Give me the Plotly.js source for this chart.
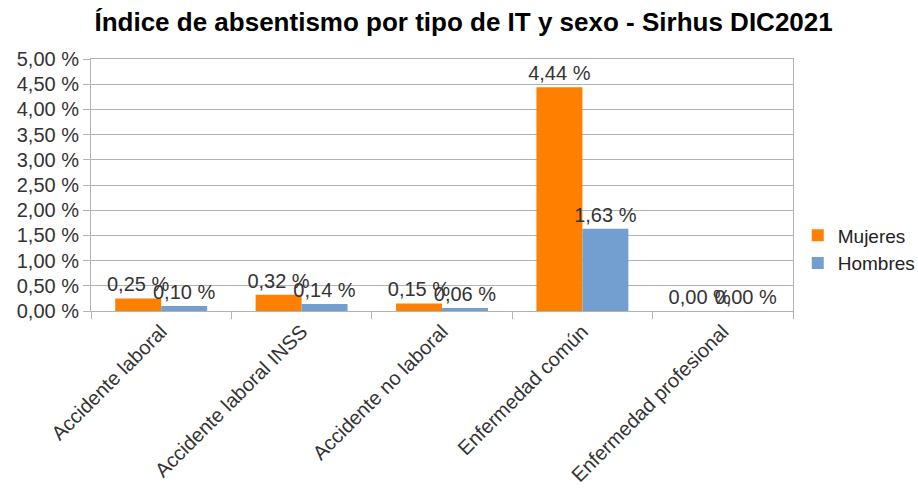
<!DOCTYPE html>
<html>
<head>
<meta charset="utf-8">
<script src="https://cdn.plot.ly/plotly-3.0.1.min.js"></script>
<style>html,body{margin:0;padding:0;background:#fff;}#chart{width:918px;height:488px;}</style>
</head>
<body>
<div id="chart"></div>
<script>
const categories = ["Accidente laboral", "Accidente laboral INSS", "Accidente no laboral", "Enfermedad común", "Enfermedad profesional"];
const mujeres = [0.25, 0.32, 0.15, 4.44, 0.00];
const hombres = [0.10, 0.14, 0.06, 1.63, 0.00];
const yTickVals = [0, 0.5, 1, 1.5, 2, 2.5, 3, 3.5, 4, 4.5, 5];
const yTickText = ["0,00 %", "0,50 %", "1,00 %", "1,50 %", "2,00 %", "2,50 %", "3,00 %", "3,50 %", "4,00 %", "4,50 %", "5,00 %"];

const fmt = v => v.toFixed(2).replace('.', ',') + ' %';
const FONT = 'Liberation Sans, Arial, sans-serif';

const traces = [
  {type: 'bar', name: 'Mujeres', x: categories, y: mujeres, text: mujeres.map(fmt),
   textposition: 'outside', cliponaxis: false, constraintext: 'none',
   textfont: {size: 20, color: '#333', family: FONT},
   marker: {color: '#ff8000'}, hoverinfo: 'none'},
  {type: 'bar', name: 'Hombres', x: categories, y: hombres, text: hombres.map(fmt),
   textposition: 'outside', cliponaxis: false, constraintext: 'none',
   textfont: {size: 20, color: '#333', family: FONT},
   marker: {color: '#729fcf'}, hoverinfo: 'none'}
];

const layout = {
  width: 918, height: 488,
  margin: {l: 91, r: 125, t: 59, b: 177},
  paper_bgcolor: '#fff', plot_bgcolor: '#fff',
  font: {family: FONT, size: 20, color: '#333'},
  title: {text: 'Índice de absentismo por tipo de IT y sexo - Sirhus DIC2021',
          font: {family: FONT, size: 26, color: '#000', weight: 'bold'},
          x: 0.505, xanchor: 'center', y: 0.955, yanchor: 'middle'},
  barmode: 'group', bargap: 0.345, bargroupgap: 0,
  showlegend: true,
  legend: {xref: 'container', yref: 'container', x: 0.869, xanchor: 'left', y: 0.489, yanchor: 'middle',
           font: {size: 19, color: '#222', family: FONT}, tracegroupgap: 0, itemwidth: 30},
  xaxis: {type: 'category', tickangle: -45, tickson: 'boundaries', ticks: 'outside', ticklen: 7,
          tickcolor: '#b3b3b3', showline: true, linecolor: '#b3b3b3', mirror: true,
          showgrid: false, tickfont: {size: 20, color: '#333', family: FONT}, fixedrange: true},
  yaxis: {range: [0, 5], tickvals: yTickVals, ticktext: yTickText, ticks: 'outside', ticklen: 7,
          tickcolor: '#b3b3b3', showline: true, linecolor: '#b3b3b3', mirror: true,
          showgrid: true, gridcolor: '#b3b3b3', zeroline: false,
          tickfont: {size: 20, color: '#333', family: FONT}, fixedrange: true}
};

Plotly.newPlot('chart', traces, layout, {displayModeBar: false, staticPlot: true});
</script>
</body>
</html>
